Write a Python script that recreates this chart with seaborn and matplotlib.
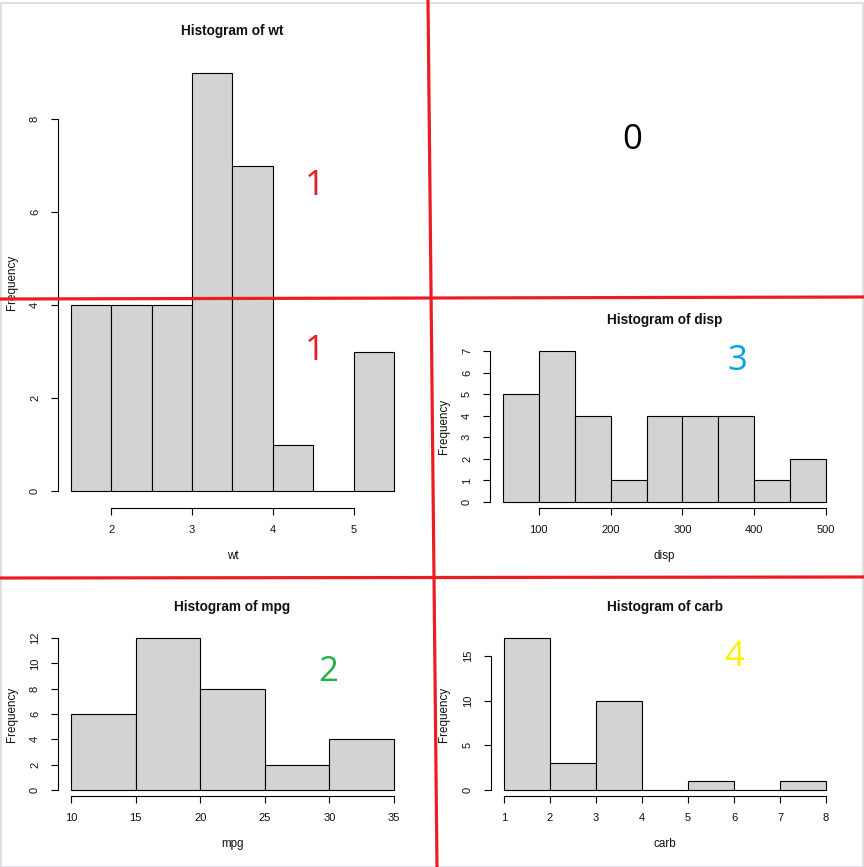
import numpy as np
import pandas as pd
import matplotlib
matplotlib.use("Agg")
import matplotlib.pyplot as plt
from matplotlib.lines import Line2D
from matplotlib.patches import Rectangle
import seaborn as sns

# ---------------- data ----------------
wt_edges = [1.5, 2.0, 2.5, 3.0, 3.5, 4.0, 4.5, 5.0, 5.5]
wt_counts = [4, 4, 4, 9, 7, 1, 0, 3]
wt_xticks = [2, 3, 4, 5]
wt_yticks = [0, 2, 4, 6, 8]

disp_edges = [50, 100, 150, 200, 250, 300, 350, 400, 450, 500]
disp_counts = [5, 7, 4, 1, 4, 4, 4, 1, 2]
disp_xticks = [100, 200, 300, 400, 500]
disp_yticks = [0, 1, 2, 3, 4, 5, 6, 7]

mpg_edges = [10, 15, 20, 25, 30, 35]
mpg_counts = [6, 12, 8, 2, 4]
mpg_xticks = [10, 15, 20, 25, 30, 35]
mpg_yticks = [0, 2, 4, 6, 8, 10, 12]

carb_edges = [1, 2, 3, 4, 5, 6, 7, 8]
carb_counts = [17, 3, 10, 0, 1, 0, 1]
carb_xticks = [1, 2, 3, 4, 5, 6, 7, 8]
carb_yticks = [0, 5, 10, 15]

panel_labels = ["0", "1", "1", "2", "3", "4"]
panel_colors = ["#000000", "#ED1C24", "#ED1C24", "#22B14C", "#00A2E8", "#FFF200"]

# ---------------- style ----------------
sns.set_theme(style="ticks")
plt.rcParams["font.family"] = ["Liberation Sans", "DejaVu Sans"]

W, H = 864, 867
DPI = 100
fig = plt.figure(figsize=(W / DPI, H / DPI), dpi=DPI)
fig.patch.set_facecolor("white")


def fx(x):
    return x / W


def fy(y):
    return 1 - y / H


def make_panel(rect_px, edges, counts, xticks, yticks, name, ylab_x):
    left, top, right, bottom = rect_px
    ax = fig.add_axes([fx(left), fy(bottom), fx(right) - fx(left), fy(top) - fy(bottom)])
    e = [float(v) for v in edges]
    mids = [(a + b) / 2 for a, b in zip(e[:-1], e[1:])]
    df = pd.DataFrame({"x": mids, "w": [float(c) for c in counts]})
    sns.histplot(data=df, x="x", weights="w", bins=e, ax=ax,
                 color="#D3D3D3", edgecolor="black", linewidth=0.8, alpha=1.0)
    # R-like extended limits (4%)
    xr = e[-1] - e[0]
    ymax = max(counts)
    ax.set_xlim(e[0] - 0.04 * xr, e[-1] + 0.04 * xr)
    ax.set_ylim(-0.04 * ymax, ymax * 1.04)
    ax.set_facecolor("none")
    for s in ["top", "right"]:
        ax.spines[s].set_visible(False)
    ax.spines["left"].set_bounds(yticks[0], yticks[-1])
    ax.spines["bottom"].set_bounds(xticks[0], xticks[-1])
    for s in ["left", "bottom"]:
        ax.spines[s].set_linewidth(0.8)
        ax.spines[s].set_color("black")
    ax.set_xticks(xticks)
    ax.set_yticks(yticks)
    ax.set_xticklabels([str(t) for t in xticks])
    ax.set_yticklabels([str(t) for t in yticks])
    ax.tick_params(axis="both", length=5, width=0.8, color="black",
                   labelsize=8, labelcolor="#111111")
    ax.tick_params(axis="x", pad=7)
    ax.tick_params(axis="y", pad=8, labelrotation=90)
    for lab in ax.get_yticklabels():
        lab.set_va("center")
    ax.set_xlabel("")
    ax.set_ylabel("")
    cx = (left + right) / 2
    cy = (top + bottom) / 2
    fig.text(fx(cx), fy(top - 25), f"Histogram of {name}", ha="center", va="center",
             fontsize=9.8, fontweight="bold", color="#111111")
    fig.text(fx(cx), fy(bottom + 48), name, ha="center", va="center",
             fontsize=8.4, color="#111111")
    fig.text(fx(ylab_x), fy(cy), "Frequency", ha="center", va="center",
             rotation=90, fontsize=8.4, color="#111111")
    return ax


make_panel((58, 56, 407, 508), wt_edges, wt_counts, wt_xticks, wt_yticks, "wt", 12)
make_panel((490, 345, 839, 508), disp_edges, disp_counts, disp_xticks, disp_yticks, "disp", 444)
make_panel((58, 632, 407, 796), mpg_edges, mpg_counts, mpg_xticks, mpg_yticks, "mpg", 12)
make_panel((491, 632, 839, 796), carb_edges, carb_counts, carb_xticks, carb_yticks, "carb", 444)

# annotation numbers
num_pos = [(632, 140), (315, 186), (315, 351), (328, 672), (737, 361), (734, 657)]
for (x, y), t, c in zip(num_pos, panel_labels, panel_colors):
    fig.text(fx(x), fy(y), t, ha="center", va="center", fontsize=25,
             color=c, family=["Open Sans", "DejaVu Sans"])

# red divider lines
red = "#ED1C24"
lines = [((428, 0), (437, 867)), ((0, 299), (864, 297)), ((0, 578), (864, 577))]
for (x0, y0), (x1, y1) in lines:
    fig.add_artist(Line2D([fx(x0), fx(x1)], [fy(y0), fy(y1)], color=red,
                          linewidth=2.3, zorder=20, transform=fig.transFigure))

# faint outer border
fig.add_artist(Rectangle((0.5 / W, 0.5 / H), 1 - 2 / W, 1 - 3 / H, fill=False,
                         edgecolor="#D5D9DE", linewidth=1.2, transform=fig.transFigure))

fig.savefig("out.png", dpi=DPI, facecolor="white")
